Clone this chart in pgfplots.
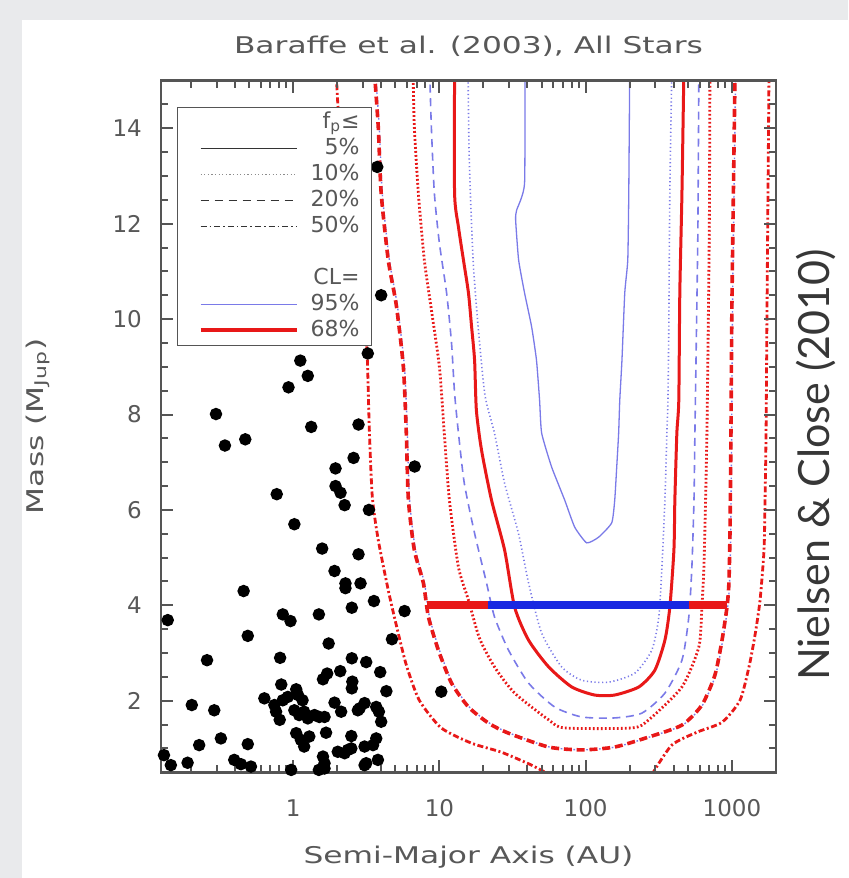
\documentclass[border=0pt]{standalone}
\usepackage{fontspec}
\usepackage{pgfplots}
\pgfplotsset{compat=1.18}
\setmainfont{DejaVu Sans}
\newfontfamily\idl{DejaVu Sans}[FakeStretch=1.36]
\newfontfamily\gill{Lato}
\definecolor{txtgray}{RGB}{88,88,88}
\definecolor{axgray}{RGB}{85,85,85}
\definecolor{cred}{RGB}{232,24,24}
\definecolor{cblue}{RGB}{122,122,232}
\definecolor{barblue}{RGB}{25,40,225}
\definecolor{bggray}{RGB}{233,234,236}
\definecolor{nctext}{RGB}{55,55,55}
\tikzset{
 fsolid/.style={draw=black!80, line width=0.7pt},
 fdot/.style={draw=black!45, line width=0.7pt, dash pattern=on 0.6pt off 1.2pt},
 fdash/.style={draw=black!80, line width=0.7pt, dash pattern=on 4pt off 3pt},
 fdashdot/.style={draw=black!80, line width=0.7pt, dash pattern=on 3pt off 1.5pt on 0.8pt off 1.5pt},
 bsolid/.style={draw=cblue, line width=0.65pt},
 bdot/.style={draw=cblue, line width=0.8pt, dash pattern=on 0.6pt off 1.3pt},
 bdash/.style={draw=cblue, line width=0.8pt, dash pattern=on 4pt off 2.8pt},
 bdashdot/.style={draw=cblue, line width=0.7pt, dash pattern=on 3pt off 1.3pt on 0.8pt off 1.3pt},
 rsolid/.style={draw=cred, line width=1.5pt},
 rdot/.style={draw=cred, line width=1.4pt, dash pattern=on 0.9pt off 1.1pt},
 rdash/.style={draw=cred, line width=1.8pt, dash pattern=on 4pt off 2.4pt},
 rdashdot/.style={draw=cred, line width=1.4pt, dash pattern=on 3pt off 1.3pt on 1pt off 1.3pt},
}
\begin{document}
\begin{tikzpicture}
\fill[bggray] (-80.5pt,-52.85pt) rectangle (343.5pt,386.15pt);
\fill[white] (-69.5pt,-52.85pt) rectangle (343.5pt,376.15pt);
\begin{axis}[
 at={(0pt,0pt)}, anchor=south west,
 scale only axis, width=307.5pt, height=345.85pt,
 axis on top,
 xmode=log, xmin=0.125, xmax=2000, ymin=0.5, ymax=15,
 xtick={1,10,100,1000}, xticklabels={1,10,100,1000},
 minor xtick={0.2,0.3,0.4,0.5,0.6,0.7,0.8,0.9,2,3,4,5,6,7,8,9,20,30,40,50,60,70,80,90,200,300,400,500,600,700,800,900},
 ytick={2,4,6,8,10,12,14}, yticklabels={2,4,6,8,10,12,14},
 minor ytick={0.5,1,...,15},
 tick align=inside, major tick length=6pt, minor tick length=3.5pt,
 every axis/.append style={line width=1.2pt},
 axis line style={color=axgray},
 every tick/.append style={color=axgray, line width=1pt},
 /pgf/number format/assume math mode=true,
 tick label style={font=\fontsize{11.5}{13}\selectfont, text=txtgray},
 xticklabel style={anchor=base, yshift=-22pt},
 yticklabel style={anchor=east, inner sep=0pt, xshift=-9pt},
 title={Baraffe et al. (2003), All Stars},
 title style={font=\idl\fontsize{11.5}{13}\selectfont, text=txtgray, at={(axis description cs:0.5,1)}, anchor=base, yshift=7.3pt},
 xlabel={Semi-Major Axis (AU)},
 xlabel style={font=\idl\fontsize{11.5}{13}\selectfont, text=txtgray, at={(axis description cs:0.5,0)}, anchor=base, yshift=-45.5pt},
 ylabel={Mass (M\textsubscript{Jup})},
 ylabel style={font=\idl\fontsize{11.5}{13}\selectfont, text=txtgray, at={(axis description cs:-0.2,0.5)}, anchor=center},
 legend cell align=right,
 legend image code/.code={\path (0pt,0pt); \draw[#1] (5.5pt,0pt) -- (53.5pt,0pt);},
 legend style={at={(0.026,0.962)}, anchor=north west, draw=axgray, line width=0.6pt, fill=white,
   font=\fontsize{11}{12}\selectfont, text=txtgray, inner xsep=5pt, inner ysep=1pt,
   nodes={inner sep=1pt, text height=8.5pt, text depth=2.5pt},
   /tikz/every odd column/.append style={column sep=5pt}},
]
\addlegendimage{empty legend}\addlegendentry{f\textsubscript{p}≤}
\addlegendimage{fsolid}\addlegendentry{5\%}
\addlegendimage{fdot}\addlegendentry{10\%}
\addlegendimage{fdash}\addlegendentry{20\%}
\addlegendimage{fdashdot}\addlegendentry{50\%}
\addlegendimage{empty legend}\addlegendentry{}
\addlegendimage{empty legend}\addlegendentry{CL=}
\addlegendimage{draw=cblue, line width=0.9pt}\addlegendentry{95\%}
\addlegendimage{draw=cred, line width=2pt}\addlegendentry{68\%}

% 95% CL, 50% (dash-dot, blue) underneath red dashed
\addplot[bdashdot, smooth, tension=0.4, forget plot] coordinates {(3.65,15.2) (3.88,14.03) (4.07,12.64) (4.55,11.24) (5.15,10.3) (5.77,9.0) (6.04,7.61) (6.25,6.21) (6.86,5.16) (7.9,4.47) (8.55,3.76) (10.0,3.06) (12.3,2.37) (16.0,1.87) (22.0,1.53) (30.2,1.32) (56.5,1.03) (95,0.97) (160,1.03) (274,1.24) (460,1.49) (630,1.91) (773,2.54) (865,3.27) (935,3.97) (963,4.47) (980,5.51) (995,7.61) (1010,10.40) (1060,15.2)};
% 68% CL, 50% (dash-dot, red)
\addplot[rdashdot, smooth, tension=0.4, forget plot] coordinates {(1.97,15.2) (2.07,14.03) (2.38,12.64) (2.79,11.24) (3.06,10.19) (3.21,9.25) (3.32,7.68) (3.48,6.27) (3.82,5.37) (4.47,4.32) (5.07,3.59) (5.94,2.75) (7.29,2.01) (10.3,1.43) (16.6,1.11) (26.6,0.92) (42.7,0.65) (56.6,0.45)};
\addplot[rdashdot, smooth, tension=0.4, forget plot] coordinates {(283,0.45) (388,1.07) (576,1.34) (855,1.55) (1135,2.01) (1307,2.71) (1438,3.38) (1556,4.11) (1656,5.16) (1683,6.21) (1710,7.61) (1738,10.40) (1792,15.2)};
% 68% CL, 20% (dashed, red)
\addplot[rdash, smooth, tension=0.4, forget plot] coordinates {(3.59,15.2) (3.82,14.03) (4.0,12.64) (4.47,11.24) (5.07,10.3) (5.67,9.0) (5.94,7.61) (6.14,6.21) (6.74,5.16) (7.77,4.47) (8.41,3.76) (9.84,3.06) (12.1,2.37) (15.8,1.87) (21.7,1.53) (29.7,1.32) (55.8,1.03) (94,0.97) (158,1.03) (270,1.24) (455,1.49) (623,1.91) (765,2.54) (855,3.27) (925,3.97) (953,4.47) (969,5.51) (984,7.61) (1000,10.40) (1050,15.2)};
% 68% CL, 10% (dotted, red)
\addplot[rdot, smooth, tension=0.4, forget plot] coordinates {(6.61,15.2) (6.74,14.03) (7.18,12.64) (7.89,11.24) (8.81,10.2) (10.0,9.0) (10.8,7.61) (11.7,6.21) (13.5,4.80) (15.8,4.11) (18.8,3.31) (23.8,2.71) (32.7,2.16) (55.8,1.60) (71.8,1.43) (207,1.43) (270,1.60) (455,2.29) (594,3.13) (623,3.97) (643,4.8) (660,6.2) (674,7.61) (684,9.14) (700,11.93) (707,15.2)};
% 95% CL, 20% (dashed, blue)
\addplot[bdash, smooth, tension=0.4, forget plot] coordinates {(8.58,15.2) (8.81,14.03) (9.24,12.64) (10.0,11.59) (11.2,10.55) (12.1,9.50) (12.7,8.45) (13.5,7.61) (14.8,6.56) (17.4,5.51) (21.0,4.47) (23.8,3.76) (29.7,3.06) (40.7,2.37) (61.3,1.87) (94,1.66) (158,1.64) (242,1.74) (348,2.16) (455,2.85) (507,3.76) (532,4.80) (550,6.21) (558,7.61) (576,10.40) (585,11.93) (594,15.2)};
% 95% CL, 10% (dotted, blue)
\addplot[bdot, smooth, tension=0.4, forget plot] coordinates {(15.7,15.2) (16.0,13.34) (17.0,11.24) (18.4,9.84) (20.5,8.4) (23.8,7.61) (27.9,6.56) (34.7,5.51) (40.7,4.47) (50,3.42) (68.5,2.71) (94,2.43) (144,2.39) (217,2.58) (283,3.06) (316,3.75) (332,4.80) (348,6.21) (359,7.61) (365,8.30) (370,9.84) (376,12.64) (388,15.2)};
% 68% CL, 5% (solid, red)
\addplot[rsolid, smooth, tension=0.4, forget plot] coordinates {(12.7,15.2) (12.7,12.64) (13.5,11.93) (14.6,11.24) (15.8,10.55) (16.6,9.84) (17.4,9.14) (17.9,8.09) (19.4,7.26) (22.7,6.21) (27.9,5.16) (32.7,3.96) (40.7,3.27) (55.8,2.71) (80.2,2.29) (115,2.12) (158,2.12) (231,2.29) (297,2.64) (348,3.27) (376,3.96) (401,5.16) (407,6.21) (420,7.61) (433,8.30) (440,10.55) (455,12.64) (469,15.2)};
% 95% CL, 5% (solid, blue)
\addplot[bsolid, smooth, tension=0.3, forget plot] coordinates {(38.4,15.2) (38.2,12.84) (33.7,12.28) (33.2,12.08) (34.8,11.24) (38.2,10.55) (42.7,9.84) (46.1,9.14) (48.4,8.30) (50.0,7.61) (58.5,6.90) (71.8,6.21) (84.1,5.64) (101.6,5.31) (122.7,5.43) (150.7,5.73) (158,6.21) (163,6.90) (168,7.61) (171,8.30) (177,9.14) (185,10.55) (194,11.24) (197,12.6) (200,15.2)};
% ranges at 4 M_Jup
\addplot[cred, line width=4pt, forget plot] coordinates {(8.2,4) (21.5,4)};
\addplot[cred, line width=4pt, forget plot] coordinates {(505,4) (920,4)};
\addplot[barblue, line width=4pt, forget plot] coordinates {(21.5,4) (505,4)};
% detected companions
\addplot[only marks, mark=*, mark size=2.5pt, black, forget plot] coordinates {
(3.76,13.19) (4.0,10.5) (3.24,9.28) (1.12,9.13) (1.26,8.81) (0.93,8.57) (0.297,8.01) (1.33,7.74) (2.80,7.79)
(0.342,7.35) (0.471,7.48) (2.59,7.09) (1.95,6.87) (6.78,6.91) (0.773,6.33) (1.95,6.50) (2.11,6.36) (2.25,6.10)
(3.30,6.0) (1.02,5.70) (1.58,5.19) (2.80,5.07) (1.92,4.72) (2.28,4.46) (2.28,4.36) (2.89,4.46) (0.459,4.30)
(3.57,4.09) (2.52,3.95) (0.85,3.81) (0.96,3.67) (1.50,3.81) (5.78,3.88) (0.139,3.69) (0.49,3.36) (1.75,3.20)
(4.74,3.29) (0.258,2.85) (0.815,2.90) (2.52,2.89) (3.16,2.81) (2.10,2.62) (3.94,2.60) (1.60,2.45) (1.71,2.57)
(4.34,2.20) (10.3,2.19) (0.83,2.34) (2.54,2.40) (2.52,2.26) (0.203,1.91) (0.289,1.80) (0.636,2.05)
(0.745,1.91) (0.85,2.01) (0.92,2.08) (1.08,2.12) (1.16,2.01) (0.765,1.77) (0.81,1.60) (1.02,1.80) (1.10,1.70)
(1.19,1.77) (1.26,1.63) (1.40,1.70) (1.51,1.66) (1.64,1.66) (1.92,1.96) (2.13,1.77) (2.85,1.84) (3.08,1.95)
(1.05,1.32) (1.13,1.18) (1.19,1.04) (1.29,1.25) (1.68,1.33) (2.50,1.26) (3.08,1.04) (2.02,0.93) (2.25,0.90)
(2.50,1.0) (1.60,0.83) (1.64,0.69) (3.08,0.65) (0.19,0.70) (0.228,1.07) (0.321,1.21) (0.49,1.09) (0.396,0.76)
(0.44,0.67) (0.515,0.62) (0.146,0.65) (0.131,0.86) (0.97,0.55) (1.64,0.58) (1.05,2.24) (3.70,1.87) (4.0,1.56)
(3.86,1.77) (2.77,1.80) (3.70,1.21) (3.52,1.07) (3.80,0.76) (3.16,0.69) (2.37,0.97) (1.50,0.55)
};
\end{axis}
\node[rotate=90, text=nctext, inner sep=0pt] at (327.5pt,153.65pt) {\gill\fontsize{21.5}{24}\selectfont Nielsen \& Close (2010)};
\end{tikzpicture}
\end{document}
